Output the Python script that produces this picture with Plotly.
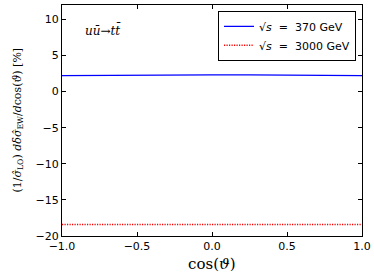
import plotly.graph_objects as go

cos_theta = [-1.0, -0.75, -0.5, -0.25, 0.0, 0.25, 0.5, 0.75, 1.0]
ew_370 = [2.22, 2.26, 2.29, 2.31, 2.31, 2.31, 2.29, 2.26, 2.22]
ew_3000 = [-18.4, -18.4, -18.4, -18.4, -18.4, -18.4, -18.4, -18.4, -18.4]

fig = go.Figure()
fig.add_trace(go.Scatter(x=cos_theta, y=ew_370, mode="lines",
                         line=dict(color="#0000ff", width=1.3),
                         name="√<i>s</i>  =  370 GeV"))
fig.add_trace(go.Scatter(x=cos_theta, y=ew_3000, mode="lines",
                         line=dict(color="#ff0000", width=1.5, dash="1.2px,1.3px"),
                         name="√<i>s</i>  =  3000 GeV"))

axis_common = dict(showline=True, linecolor="black", linewidth=1, mirror="ticks",
                   ticks="inside", ticklen=4, tickcolor="black", showgrid=False,
                   zeroline=False, automargin=False,
                   tickfont=dict(family="DejaVu Sans", size=11, color="black"))

fig.update_xaxes(range=[-1.0, 1.0], tickvals=[-1.0, -0.5, 0.0, 0.5, 1.0],
                 ticktext=["−1.0", "−0.5", "0.0", "0.5", "1.0"], **axis_common)
fig.update_yaxes(range=[-20, 12], tickvals=[-20, -15, -10, -5, 0, 5, 10],
                 ticktext=["−20", "−15", "−10", "−5", "0", "5", "10"], **axis_common)

fig.add_annotation(x=0.5, y=-0.075, xref="paper", yref="paper", xanchor="center", yanchor="top",
                   text="cos(<i>ϑ</i>)", showarrow=False,
                   font=dict(family="DejaVu Serif", size=15, color="black"))
fig.add_annotation(x=-0.15, y=0.5, xref="paper", yref="paper", xanchor="center", yanchor="middle",
                   textangle=-90,
                   text="(1/<i>σ̂</i><sub>LO</sub>) <i>dδσ̂</i><sub>EW</sub>/<i>d</i>cos(<i>ϑ</i>) [%]",
                   showarrow=False, font=dict(family="DejaVu Serif", size=11, color="black"))

fig.add_annotation(x=0.07, y=0.89, xref="paper", yref="paper", xanchor="left", yanchor="middle",
                   text="<i>uū</i>→<i>tt̄</i>", showarrow=False,
                   font=dict(family="DejaVu Serif", size=12, color="black"))

fig.update_layout(
    width=374, height=275,
    margin=dict(l=62, r=12, t=5, b=39, autoexpand=False),
    plot_bgcolor="white", paper_bgcolor="white",
    legend=dict(x=0.98, y=0.975, xanchor="right", yanchor="top",
                bordercolor="black", borderwidth=1, bgcolor="white",
                font=dict(family="DejaVu Sans", size=11, color="black"),
                tracegroupgap=0, itemwidth=30),
    showlegend=True,
)

fig.write_html("out.html", config={"displayModeBar": False},
               post_script="document.body.style.margin='0';document.body.style.overflow='hidden';")
